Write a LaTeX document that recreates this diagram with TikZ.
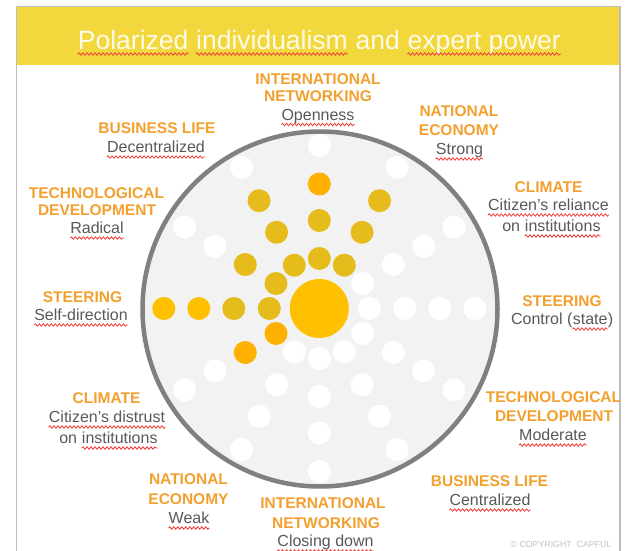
\documentclass[tikz,border=0pt]{standalone}
\usepackage{fontspec}
\setmainfont{Liberation Sans}
\usetikzlibrary{decorations.pathmorphing}
\definecolor{titlebar}{HTML}{F2D83C}
\definecolor{titletext}{HTML}{FFFBEA}
\definecolor{framegray}{HTML}{BDBDBD}
\definecolor{lblorange}{HTML}{F3A02E}
\definecolor{lblgray}{HTML}{595959}
\definecolor{wavered}{HTML}{F0463E}
\definecolor{discfill}{HTML}{F2F2F2}
\definecolor{discline}{HTML}{808080}
\definecolor{dgold}{HTML}{E6BC1C}
\definecolor{dorange}{HTML}{FFB000}
\definecolor{dyellow}{HTML}{FFC000}
\definecolor{cpygray}{HTML}{C4C4C4}
\tikzset{
  hd/.style={font=\bfseries\fontsize{15.5}{18}\selectfont, text=lblorange, inner sep=0pt, anchor=base},
  sb/.style={font=\fontsize{16}{18}\selectfont, text=lblgray, inner sep=0pt, anchor=base},
  sbw/.style={sb, anchor=base west},
  ttl/.style={font=\fontsize{26.5}{30}\selectfont, text=titletext, inner sep=0pt, anchor=base west},
  cpy/.style={font=\fontsize{8.8}{10}\selectfont, text=cpygray, inner sep=0pt, anchor=base},
  wave/.style={draw=wavered, line width=0.85pt, decorate,
    decoration={snake, segment length=4pt, amplitude=1.2pt}},
}
\newcommand\wavebelow[2][4.5pt]{\draw[wave] ([yshift=-#1]#2.base west) -- ([yshift=-#1]#2.base east);}
\begin{document}
\begin{tikzpicture}[x=1pt,y=-1pt]
\useasboundingbox (0,0) rectangle (629,551);
\fill[white] (0,0) rectangle (629,551);
% frame and title bar
\fill[titlebar] (17,7) rectangle (619.5,65.5);
\draw[framegray, line width=1.6] (16.5,6.5) rectangle (620,580);
\node[ttl] (t1) at (77.7,49) {Polarized};
\node[ttl] (t2) at ([xshift=7.37pt]t1.base east) {individualism};
\node[ttl] (t3) at ([xshift=7.37pt]t2.base east) {and};
\node[ttl] (t4) at ([xshift=7.37pt]t3.base east) {expert power};
\wavebelow[5pt]{t1}
\wavebelow[5pt]{t2}
\wavebelow[5pt]{t4}
% disc
\fill[discfill] (320,309) circle[radius=177.5];
\draw[discline, line width=4.5] (320,309) circle[radius=177.5];
% rays of dots
\foreach \k/\ca/\cb/\cc/\cd in {
  0/dgold/dgold/dorange/white,
  1/dgold/dgold/dgold/white,
  2/white/white/white/white,
  3/white/white/white/white,
  4/white/white/white/white,
  5/white/white/white/white,
  6/white/white/white/white,
  7/white/white/white/white,
  8/dorange/dorange/white/white,
  9/dgold/dgold/dyellow/dyellow,
  10/dgold/dgold/white/white,
  11/dgold/dgold/dgold/white}{
  \fill[\ca] ({319.3+50*sin(30*\k)},{308.5-50*cos(30*\k)}) circle[radius=11.5];
  \fill[\cb] ({319.3+85.5*sin(30*\k)},{308.5-88*cos(30*\k)}) circle[radius=11.5];
  \fill[\cc] ({319.3+120.5*sin(30*\k)},{308.5-124.5*cos(30*\k)}) circle[radius=11.5];
  \fill[\cd] ({319.3+155.5*sin(30*\k)},{308.5-163*cos(30*\k)}) circle[radius=11.5];
}
\fill[dyellow] (319.3,308.5) circle[radius=29.5];
% labels
\node[hd] (in1) at (318,84.5) {INTERNATIONAL};
\node[hd] (in2) at (318,101.5) {NETWORKING};
\node[sb] (in3) at (318,120) {Openness};
\wavebelow{in3}

\node[hd] (bl1) at (157,133.5) {BUSINESS LIFE};
\node[sb] (bl2) at (156,152.5) {Decentralized};
\wavebelow{bl2}

\node[hd] (ne1) at (459,116.5) {NATIONAL};
\node[hd] (ne2) at (459,135.5) {ECONOMY};
\node[sb] (ne3) at (459.5,154.5) {Strong};
\wavebelow{ne3}

\node[hd] (td1) at (96.5,198.5) {TECHNOLOGICAL};
\node[hd] (td2) at (97,215.5) {DEVELOPMENT};
\node[sb] (td3) at (97,233.5) {Radical};
\wavebelow{td3}

\node[hd] (cl1) at (548.5,192.5) {CLIMATE};
\node[sb] (cl2) at (548.5,210.5) {Citizen’s reliance};
\wavebelow{cl2}
\node[sbw] (cl3a) at (502.1,231.5) {on};
\node[sbw] (cl3b) at ([xshift=4.45pt]cl3a.base east) {institutions};
\wavebelow{cl3b}

\node[hd] (st1) at (82.5,302.5) {STEERING};
\node[sb] (st2) at (81,320.5) {Self-direction};
\wavebelow{st2}

\node[hd] (sr1) at (562,306.5) {STEERING};
\node[sbw] (sr2a) at (510.9,324.5) {Control (};
\node[sbw] (sr2b) at (sr2a.base east) {state};
\node[sbw] (sr2c) at (sr2b.base east) {)};
\wavebelow{sr2b}

\node[hd] (cd1) at (106.5,403.5) {CLIMATE};
\node[sb] (cd2) at (107,422.5) {Citizen’s distrust};
\wavebelow{cd2}
\node[sbw] (cd3a) at (59.1,443.5) {on};
\node[sbw] (cd3b) at ([xshift=4.45pt]cd3a.base east) {institutions};
\wavebelow{cd3b}

\node[hd] (tm1) at (553.5,402.5) {TECHNOLOGICAL};
\node[hd] (tm2) at (554,421.5) {DEVELOPMENT};
\node[sb] (tm3) at (553,440.5) {Moderate};
\wavebelow{tm3}

\node[hd] (nw1) at (188.5,484.5) {NATIONAL};
\node[hd] (nw2) at (188.5,504.5) {ECONOMY};
\node[sb] (nw3) at (189,523.5) {Weak};
\wavebelow{nw3}

\node[hd] (ic1) at (323,508.5) {INTERNATIONAL};
\node[hd] (ic2) at (326,528.5) {NETWORKING};
\node[sb] (ic3) at (325.5,546.5) {Closing down};
\wavebelow{ic3}

\node[hd] (bc1) at (489.5,486.5) {BUSINESS LIFE};
\node[sb] (bc2) at (490,505.5) {Centralized};
\wavebelow{bc2}

\node[cpy] (copy) at (561,547) {© COPYRIGHT\ \ CAPFUL};
\end{tikzpicture}
\end{document}
